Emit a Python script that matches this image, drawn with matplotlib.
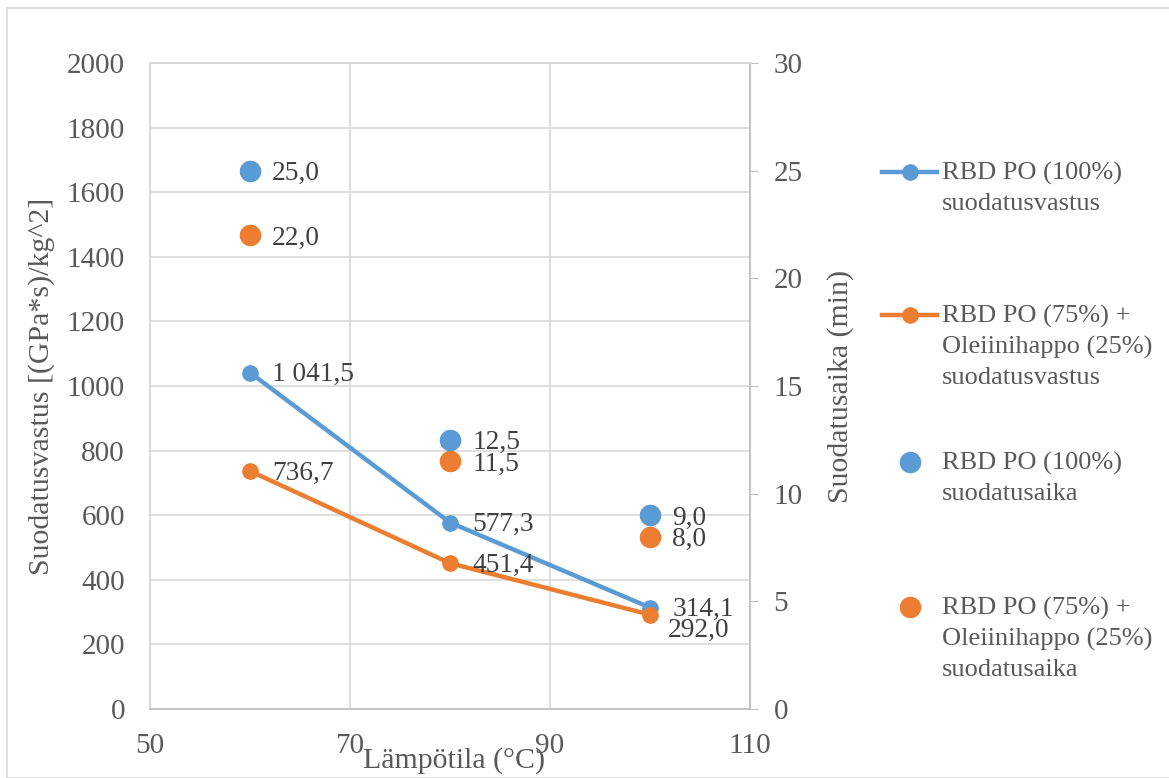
import matplotlib.pyplot as plt
from matplotlib.lines import Line2D
from matplotlib.patches import Rectangle

plt.rcParams['font.family'] = ['Liberation Serif', 'DejaVu Serif']

# lampotila (x) and the two series
temps = [60, 80, 100]
vastus_100 = [1041.5, 577.3, 314.1]
vastus_75 = [736.7, 451.4, 292.0]
aika_100 = [25.0, 12.5, 9.0]
aika_75 = [22.0, 11.5, 8.0]

labels = ["RBD PO (100%)\nsuodatusvastus",
          "RBD PO (75%) +\nOleiinihappo (25%)\nsuodatusvastus",
          "RBD PO (100%)\nsuodatusaika",
          "RBD PO (75%) +\nOleiinihappo (25%)\nsuodatusaika"]

blue = '#5B9BD5'
orange = '#ED7D31'
grid_c = '#D9D9D9'
txt_c = '#595959'
lab_c = '#404040'

W, H = 1169, 778
fig = plt.figure(figsize=(W / 100, H / 100), dpi=100)
fig.patches.append(Rectangle((7 / W, 0), 1.2, 1 - 8 / H, transform=fig.transFigure,
                             fill=False, edgecolor=grid_c, lw=1.2))

ax = fig.add_axes([150 / W, 69 / H, 600 / W, 646 / H])
ax2 = ax.twinx()

ax.set_xlim(50, 110)
ax.set_ylim(0, 2000)
ax2.set_ylim(0, 30)
ax.set_xticks([50, 70, 90, 110])
ax.set_yticks(range(0, 2001, 200))
ax2.set_yticks(range(0, 31, 5))

ax.grid(True, color=grid_c, lw=1.2)
ax.set_axisbelow(True)
for a in (ax, ax2):
    for s in a.spines.values():
        s.set_color(grid_c)
        s.set_linewidth(1.2)
ax2.spines['right'].set_color('#BFBFBF')
ax2.spines['bottom'].set_color('#BFBFBF')

ax.tick_params(axis='both', length=0, labelsize=21, labelcolor=txt_c)
ax.tick_params(axis='x', pad=17)
ax.tick_params(axis='y', pad=18)
ax2.tick_params(axis='y', length=6, color='#BFBFBF', labelsize=21, labelcolor=txt_c, pad=11)

ax.plot(temps, vastus_100, color=blue, lw=3.2, marker='o', ms=11, zorder=3)
ax.plot(temps, vastus_75, color=orange, lw=3.2, marker='o', ms=11, zorder=3)
ax2.plot(temps, aika_100, ls='none', color=blue, marker='o', ms=14.5)
ax2.plot(temps, aika_75, ls='none', color=orange, marker='o', ms=14.5)

def fmt(v):
    s = "{:,.1f}".format(v).replace(",", " ").replace(".", ",")
    return s

for i, (x, y) in enumerate(zip(temps, vastus_100)):
    ax.annotate(fmt(y), (x, y), xytext=(16, -1.5), textcoords='offset points',
                va='center', ha='left', fontsize=19.7, color=lab_c)
for i, (x, y) in enumerate(zip(temps, vastus_75)):
    off = (13, -11) if i == 2 else (16, -1.5)
    ax.annotate(fmt(y), (x, y), xytext=off, textcoords='offset points',
                va='center', ha='left', fontsize=19.7, color=lab_c)
for x, y in zip(temps, aika_100):
    ax2.annotate(fmt(y), (x, y), xytext=(16, -2), textcoords='offset points',
                 va='center', ha='left', fontsize=19.7, color=lab_c)
for x, y in zip(temps, aika_75):
    ax2.annotate(fmt(y), (x, y), xytext=(16, -2), textcoords='offset points',
                 va='center', ha='left', fontsize=19.7, color=lab_c)

ax.set_xlabel("Lämpötila (°C)", fontsize=21.5, color=txt_c)
ax.xaxis.set_label_coords(0.507, -0.059)
ax.set_ylabel("Suodatusvastus [(GPa*s)/kg^2]", fontsize=21.5, color=txt_c)
ax.yaxis.set_label_coords(-0.158, 0.5)
ax2.set_ylabel("Suodatusaika (min)", fontsize=21.5, color=txt_c)
ax2.yaxis.set_label_coords(1.128, 0.5)

# legend drawn on the right, handles aligned with first text line
ys = [172, 315, 462, 607]
styles = [(blue, '-'), (orange, '-'), (blue, 'none'), (orange, 'none')]
for (c, ls), lab, y in zip(styles, labels, ys):
    yf = 1 - y / H
    if ls == '-':
        fig.add_artist(Line2D([882 / W, 937 / W], [yf, yf], color=c, lw=3.2))
        fig.add_artist(Line2D([910 / W], [yf], color=c, marker='o', ms=11))
    else:
        fig.add_artist(Line2D([910 / W], [yf], color=c, marker='o', ms=14.5))
    fig.text(942 / W, 1 - (y - 10) / H, lab, fontsize=19, color=txt_c,
             va='top', ha='left', linespacing=1.47)

fig.savefig('out.png', dpi=100)
